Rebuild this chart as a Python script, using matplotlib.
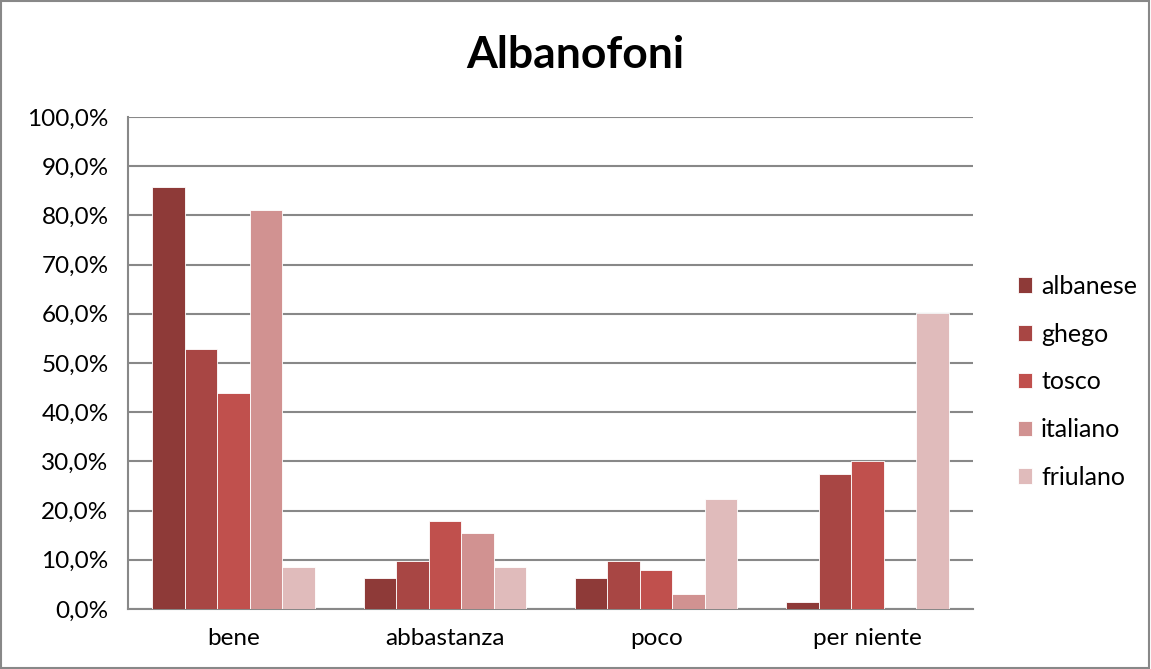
import matplotlib

matplotlib.use("Agg")
import matplotlib.pyplot as plt
import numpy as np
from matplotlib.patches import Rectangle
from matplotlib.ticker import FuncFormatter

categories = ["bene", "abbastanza", "poco", "per niente"]
series_names = ["albanese", "ghego", "tosco", "italiano", "friulano"]
albanese = [85.8, 6.2, 6.2, 1.4]
ghego = [52.8, 9.8, 9.8, 27.4]
tosco = [43.9, 17.9, 7.9, 30.0]
italiano = [81.2, 15.4, 3.0, 0.0]
friulano = [8.5, 8.5, 22.4, 60.2]
yticks = list(range(0, 101, 10))

colors = ["#8E3A38", "#A84644", "#C0504D", "#D19291", "#E0BBBB"]

plt.rcParams["font.family"] = ["Lato", "DejaVu Sans"]

fig = plt.figure(figsize=(11.51, 6.69), dpi=100)
ax = fig.add_axes([0.1112, 0.0897, 0.7342, 0.7354])

x = np.arange(len(categories))
width = 0.154
data = [albanese, ghego, tosco, italiano, friulano]
for i, (name, vals) in enumerate(zip(series_names, data)):
    ax.bar(x + (i - 2) * width, vals, width, color=colors[i], label=name,
           edgecolor="white", linewidth=0.6, zorder=3)

ax.set_ylim(0, 100)
ax.set_xlim(-0.5, len(categories) - 0.5)
ax.set_yticks(yticks)
ax.yaxis.set_major_formatter(FuncFormatter(lambda v, p: f"{v:.1f}%".replace(".", ",")))
ax.set_xticks(x)
ax.set_xticklabels(categories)
ax.tick_params(axis="both", labelsize=17.5, colors="black", length=0)
ax.tick_params(axis="y", pad=14)
ax.tick_params(axis="x", pad=14)
ax.grid(axis="y", color="#888888", linewidth=1.5, zorder=0)
for side in ["top", "right"]:
    ax.spines[side].set_visible(False)
ax.spines["left"].set_color("#888888")
ax.spines["left"].set_linewidth(1.5)
ax.spines["bottom"].set_color("#888888")
ax.spines["bottom"].set_linewidth(1.5)
ax.spines["left"].set_zorder(4)

fig.text(0.5, 0.918, "Albanofoni", ha="center", va="center",
         fontsize=32, fontweight="bold")

leg = fig.legend(loc="center left", bbox_to_anchor=(0.8645, 0.429), frameon=False,
                 fontsize=18, handlelength=0.58, handleheight=0.58,
                 handletextpad=0.36, labelspacing=0.99)

fig.patches.append(Rectangle((0.001, 0.001), 0.997, 0.997, transform=fig.transFigure,
                             fill=False, edgecolor="#888888", linewidth=1.5))

fig.savefig("out.png", dpi=100)
